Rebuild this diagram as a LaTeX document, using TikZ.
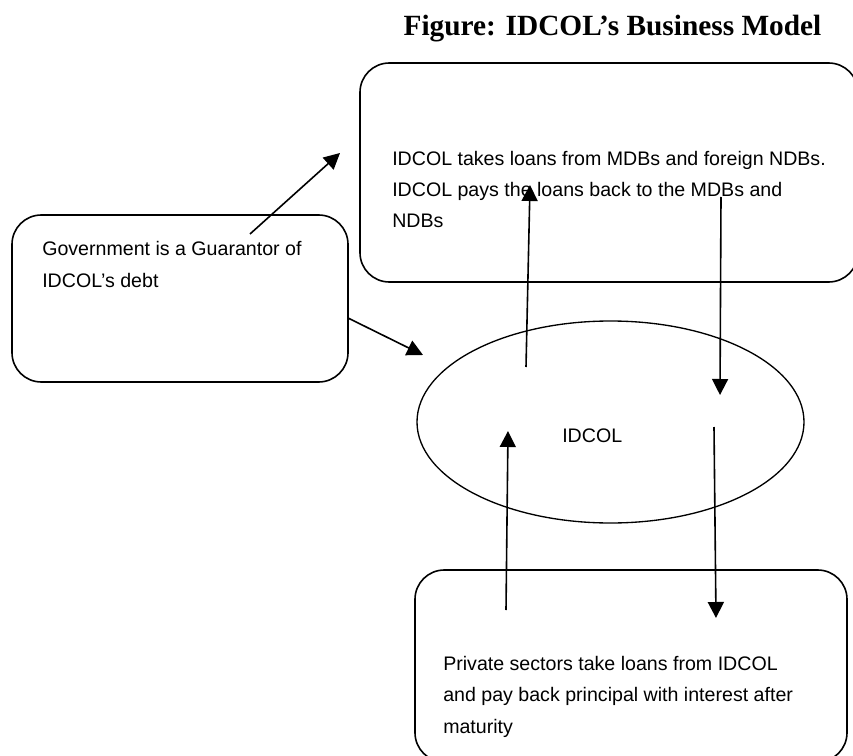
\documentclass[tikz,border=0pt]{standalone}
\usepackage{fontspec}
\setmainfont{Liberation Sans}
\newfontfamily\titlefont{Liberation Serif}
\usetikzlibrary{arrows.meta,shapes.geometric}

\tikzset{
  roundbox/.style={draw, line width=1.2pt, rounded corners=22pt, inner sep=0pt},
  boxtext/.style={anchor=base west, align=left, inner sep=0pt, font=\fontsize{14.7}{23.6}\selectfont},
  flow/.style={-{Triangle[length=12pt,width=12pt]}, line width=1.2pt}
}

\begin{document}
\begin{tikzpicture}[x=0.75pt, y=-0.75pt]
  \useasboundingbox (0,0) rectangle (853,756);

  \node[anchor=base, inner sep=0pt, font=\titlefont\bfseries\fontsize{22}{26}\selectfont] (title) at (612.5,36) {Figure: IDCOL’s Business Model};

  \node[roundbox, minimum width=373.5pt, minimum height=164.25pt] (lenders) at (609,172.5) {};
  \node[roundbox, minimum width=252pt, minimum height=125.25pt] (govt) at (180,298.5) {};
  \node[roundbox, minimum width=324pt, minimum height=144pt] (private) at (631,666) {};
  \node[draw, ellipse, line width=1pt, inner sep=0pt, minimum width=290.25pt, minimum height=151.5pt] (idcol) at (610.5,422) {};

  % base anchor sits on the last line
  \node[boxtext] (lenderstext) at (392,228) {IDCOL takes loans from MDBs and foreign NDBs.\\IDCOL pays the loans back to the MDBs and\\NDBs};
  \node[boxtext] (govttext) at (42,287) {Government is a Guarantor of\\IDCOL’s debt};
  \node[boxtext] (privatetext) at (443,733) {Private sectors take loans from IDCOL\\and pay back principal with interest after\\maturity};
  \node[boxtext] (idcoltext) at (562,442) {IDCOL};

  \coordinate (g1) at (250,234);
  \coordinate (g1t) at (340,153);
  \coordinate (g2) at (348,318);
  \coordinate (g2t) at (423,355);
  \coordinate (u1) at (526,367);
  \coordinate (u1t) at (530,185);
  \coordinate (d1) at (721,197);
  \coordinate (d1t) at (720,395);
  \coordinate (u2) at (506,610);
  \coordinate (u2t) at (508,431);
  \coordinate (d2) at (714,427);
  \coordinate (d2t) at (716,618);

  \draw[flow] (g1) -- (g1t);
  \draw[flow] (g2) -- (g2t);
  \draw[flow] (u1) -- (u1t);
  \draw[flow] (d1) -- (d1t);
  \draw[flow] (u2) -- (u2t);
  \draw[flow] (d2) -- (d2t);
\end{tikzpicture}
\end{document}
